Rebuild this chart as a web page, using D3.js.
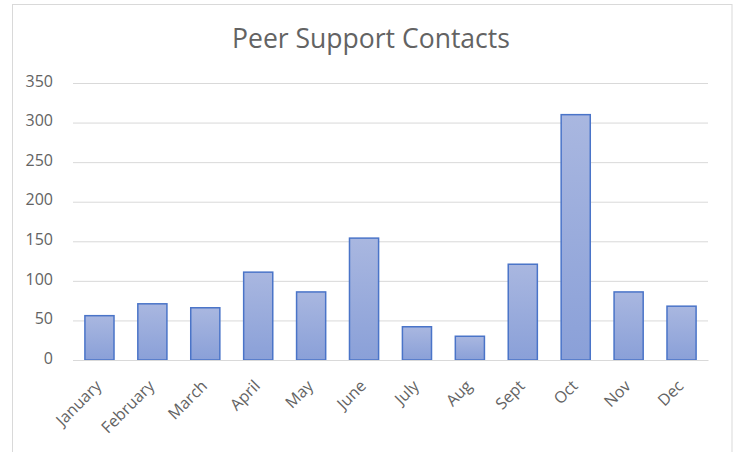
<!DOCTYPE html>
<html>
<head>
<meta charset="utf-8">
<script src="https://cdn.jsdelivr.net/npm/d3@7"></script>
<style>
  html, body { margin: 0; padding: 0; background: #fff; }
  svg { display: block; }
</style>
</head>
<body>
<svg id="chart" width="738" height="452"></svg>
<script>
const title = "Peer Support Contacts";
const months = ["January", "February", "March", "April", "May", "June", "July", "Aug", "Sept", "Oct", "Nov", "Dec"];
const contacts = [56, 71, 66, 111, 86, 154, 42, 30, 121, 310, 86, 68];
const yTicks = [0, 50, 100, 150, 200, 250, 300, 350];

const svg = d3.select("#chart");
const font = "'Open Sans', 'Noto Sans', sans-serif";
const textColor = "#636363";

// chart frame
svg.append("rect")
  .attr("x", 12.5).attr("y", 4.5)
  .attr("width", 719.5).attr("height", 460)
  .attr("fill", "#fff").attr("stroke", "#d9d9d9").attr("stroke-width", 1);

const x = d3.scaleBand().domain(months).range([73, 708]).paddingInner(0.45).paddingOuter(0.225);
const y = d3.scaleLinear().domain([0, 350]).range([360, 83]);

// gradient
const defs = svg.append("defs");
const grad = defs.append("linearGradient").attr("id", "barGrad")
  .attr("x1", 0).attr("y1", 0).attr("x2", 0).attr("y2", 1);
grad.append("stop").attr("offset", "0%").attr("stop-color", "#a9b7e0");
grad.append("stop").attr("offset", "100%").attr("stop-color", "#8aa0d8");

// gridlines + y labels
const yAxis = d3.axisLeft(y).tickValues(yTicks).tickSize(-(708 - 73)).tickPadding(20);
const gy = svg.append("g").attr("transform", "translate(73,0)").call(yAxis);
gy.select(".domain").remove();
gy.selectAll(".tick line").attr("stroke", "#d9d9d9").attr("stroke-width", 1);
gy.selectAll(".tick text")
  .attr("fill", textColor).attr("font-family", font).attr("font-size", 16)
  .attr("dy", "0.2em");

// bars
svg.append("g").selectAll("rect").data(months).join("rect")
  .attr("x", d => x(d))
  .attr("y", (d, i) => y(contacts[i]))
  .attr("width", x.bandwidth())
  .attr("height", (d, i) => y(0) - y(contacts[i]))
  .attr("fill", "url(#barGrad)")
  .attr("stroke", "#4a74c8")
  .attr("stroke-width", 1.5);

// x axis
const xAxis = d3.axisBottom(x).tickSize(0).tickPadding(0);
const gx = svg.append("g").attr("transform", "translate(0,360)").call(xAxis);
gx.select(".domain").attr("stroke", "#d9d9d9");
gx.selectAll(".tick text")
  .attr("fill", textColor).attr("font-family", font).attr("font-size", 16)
  .attr("text-anchor", "end")
  .attr("y", 0)
  .attr("dy", 0)
  .attr("transform", "translate(3,27) rotate(-45)");

// title
const t = svg.append("text")
  .attr("x", 371).attr("y", 48)
  .attr("text-anchor", "middle")
  .attr("fill", textColor)
  .attr("font-family", font)
  .attr("font-size", 24)
  .text(title);
const len = t.node().getComputedTextLength();
t.attr("font-size", 24 * 278 / len);
</script>
</body>
</html>
